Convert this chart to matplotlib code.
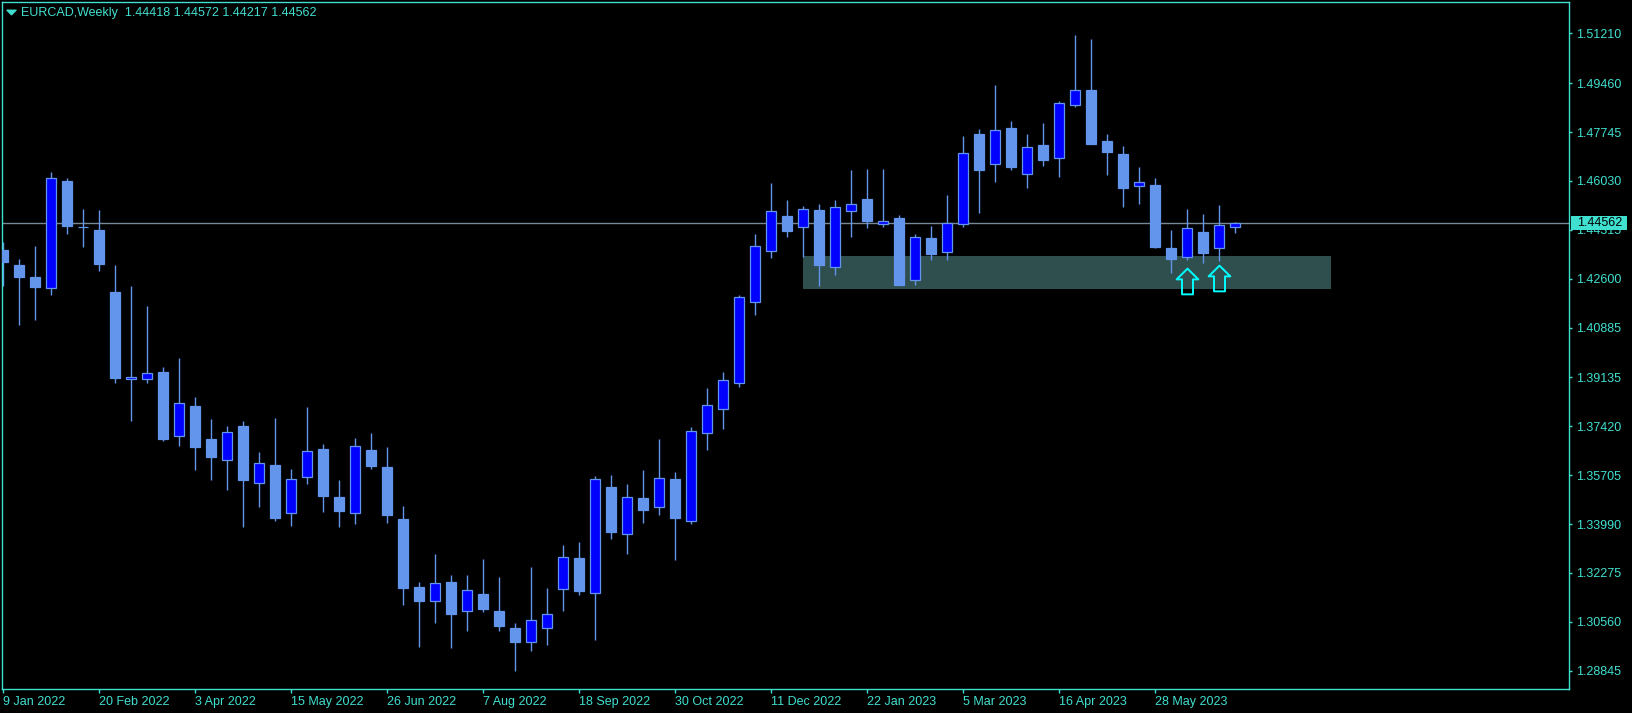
import numpy as np
import pandas as pd
import matplotlib

matplotlib.use("Agg")
import matplotlib.pyplot as plt
from matplotlib.path import Path
from matplotlib.patches import Rectangle
from matplotlib.transforms import blended_transform_factory

# EURCAD weekly candles, 9 Jan 2022 .. 2 Jul 2023
dates = pd.date_range("2022-01-09", periods=78, freq="7D")

opens = [
    1.43607, 1.43080, 1.42659, 1.42263, 1.46028, 1.44405, 1.44308, 1.42133, 1.39070, 1.39091,
    1.39326, 1.37091, 1.38133, 1.36975, 1.36228, 1.37431, 1.35421, 1.36063, 1.34368, 1.35631,
    1.36624, 1.34940, 1.34368, 1.36589, 1.35992, 1.34168, 1.31782, 1.31280, 1.31957, 1.30929,
    1.31536, 1.30940, 1.30343, 1.29863, 1.30333, 1.31701, 1.32799, 1.31561, 1.35291, 1.33631,
    1.34905, 1.34578, 1.35571, 1.34098, 1.37196, 1.38017, 1.38929, 1.41793, 1.43561, 1.44800,
    1.44396, 1.45010, 1.43000, 1.44964, 1.45396, 1.44508, 1.44729, 1.42564, 1.44028, 1.43526,
    1.44508, 1.47677, 1.46614, 1.47887, 1.46263, 1.47291, 1.46824, 1.48684, 1.49221, 1.47421,
    1.46975, 1.45842, 1.45887, 1.43677, 1.43350, 1.44238, 1.43666, 1.44418,
]
highs = [
    1.43898, 1.43291, 1.43747, 1.46343, 1.46133, 1.45045, 1.45010, 1.43080, 1.42343, 1.41642,
    1.39501, 1.39817, 1.38449, 1.37677, 1.37431, 1.37606, 1.36519, 1.37712, 1.35922, 1.38098,
    1.36799, 1.35536, 1.37010, 1.37185, 1.36694, 1.34624, 1.31957, 1.32940, 1.32203, 1.32203,
    1.32764, 1.32133, 1.30519, 1.32484, 1.31747, 1.33256, 1.33361, 1.35677, 1.35712, 1.35396,
    1.35887, 1.36975, 1.35817, 1.37396, 1.38764, 1.39326, 1.42017, 1.44168, 1.45957, 1.45361,
    1.45150, 1.45221, 1.45361, 1.46414, 1.46449, 1.46449, 1.44835, 1.44168, 1.44449, 1.45536,
    1.47607, 1.47852, 1.49396, 1.48122, 1.47677, 1.48063, 1.48835, 1.51150, 1.51010, 1.47677,
    1.47256, 1.46519, 1.46133, 1.44308, 1.45045, 1.44870, 1.45186, 1.44572,
]
lows = [
    1.42354, 1.40985, 1.41150, 1.42038, 1.44178, 1.43722, 1.42880, 1.38950, 1.37617, 1.38950,
    1.36915, 1.36740, 1.35898, 1.35547, 1.35196, 1.33887, 1.34599, 1.34100, 1.33922, 1.35406,
    1.34424, 1.33898, 1.34003, 1.35933, 1.34038, 1.31161, 1.29687, 1.30529, 1.29652, 1.30249,
    1.30915, 1.30249, 1.28835, 1.29547, 1.29757, 1.30950, 1.31512, 1.29933, 1.33477, 1.32950,
    1.34038, 1.34319, 1.32729, 1.33992, 1.36599, 1.37336, 1.38810, 1.41336, 1.43336, 1.44073,
    1.43371, 1.42354, 1.42740, 1.44073, 1.44389, 1.44424, 1.42379, 1.42389, 1.43266, 1.43266,
    1.44424, 1.44915, 1.46003, 1.46424, 1.45793, 1.46564, 1.46179, 1.48635, 1.47315, 1.46249,
    1.45126, 1.45231, 1.43687, 1.42810, 1.43256, 1.43161, 1.43231, 1.44217,
]
closes = [
    1.43196, 1.42670, 1.42319, 1.46122, 1.44459, 1.44401, 1.43126, 1.39126, 1.39140, 1.39280,
    1.36985, 1.38228, 1.36705, 1.36354, 1.37210, 1.35547, 1.36133, 1.34213, 1.35561, 1.36543,
    1.34985, 1.34459, 1.36719, 1.36038, 1.34319, 1.31757, 1.31301, 1.31922, 1.30845, 1.31666,
    1.31020, 1.30424, 1.29863, 1.30624, 1.30824, 1.32835, 1.31652, 1.35571, 1.33722, 1.34940,
    1.34494, 1.35596, 1.34213, 1.37256, 1.38157, 1.39035, 1.41947, 1.43736, 1.44964, 1.44284,
    1.45035, 1.43091, 1.45115, 1.45210, 1.44635, 1.44614, 1.42389, 1.44052, 1.43477, 1.44554,
    1.47000, 1.46424, 1.47807, 1.46529, 1.47210, 1.46775, 1.48754, 1.49210, 1.47336, 1.47056,
    1.45793, 1.45982, 1.43722, 1.43301, 1.44378, 1.43512, 1.44484, 1.44562,
]

# support zone rectangle and signal arrows
zone_start, zone_end = "2022-12-25", "2023-08-13"
zone_low, zone_high = 1.42249, 1.43396
arrow_dates = ["2023-06-11", "2023-06-25"]
arrow_prices = [1.42536, 1.42614]

ytick_values = [1.28845, 1.30560, 1.32275, 1.33990, 1.35705, 1.37420, 1.39135,
                1.40885, 1.42600, 1.44315, 1.46030, 1.47745, 1.49460, 1.51210]
xtick_every = 6

FG = "#40E0D0"
BULL = "#0000FF"
BEAR = "#6495ED"
FONT = "Liberation Sans"

o, h, l, c = map(np.array, (opens, highs, lows, closes))
x = np.arange(len(dates))


def to_idx(d):
    return (pd.Timestamp(d) - dates[0]).days / 7.0


W, H = 1633, 713
fig = plt.figure(figsize=(W / 100, H / 100), dpi=100)
fig.patch.set_facecolor("black")
ax = fig.add_axes([2 / W, 24 / H, 1567.3 / W, 687 / H])
ax.set_facecolor("black")

# zone
z0, z1 = to_idx(zone_start), to_idx(zone_end)
ax.add_patch(Rectangle((z0, zone_low), z1 - z0, zone_high - zone_low,
                       facecolor="#2F4F4F", edgecolor="none", zorder=1))

# bid line
ax.axhline(c[-1], color="#778899", lw=1.0, zorder=1.8)

# candles
ax.vlines(x, l, h, colors=BEAR, lw=1.0, zorder=2)
fills = [BULL if cc > oo else BEAR for oo, cc in zip(o, c)]
ax.bar(x, np.abs(c - o), bottom=np.minimum(o, c), width=0.64,
       color=fills, edgecolor=BEAR, linewidth=0.9, zorder=3)

# hollow up arrows
av = [(0, 12.85), (10.85, 2.15), (5.5, 2.15), (5.5, -12.85), (-5.5, -12.85),
      (-5.5, 2.15), (-10.85, 2.15), (0, 12.85)]
acodes = [Path.MOVETO] + [Path.LINETO] * 6 + [Path.CLOSEPOLY]
arrow_marker = Path(av, acodes)
ax.plot([to_idx(d) for d in arrow_dates], arrow_prices, ls="none",
        marker=arrow_marker, markersize=18.5, mfc="none", mec="#00FFFF",
        mew=1.4, zorder=5)

# axes limits / ticks
ax.set_xlim((2 - 3.3) / 16, (1569.3 - 3.3) / 16)
ax.set_ylim(1.28203, 1.52308)

ax.yaxis.tick_right()
ax.set_yticks(ytick_values)
ax.set_yticklabels([f"{v:.5f}" for v in ytick_values])
xt = x[::xtick_every][:13]
ax.set_xticks(xt)
ax.set_xticklabels([f"{dates[i].day} {dates[i].strftime('%b %Y')}" for i in xt],
                   ha="left")
ax.tick_params(axis="y", colors=FG, length=2, width=1, pad=3, labelsize=9)
ax.tick_params(axis="x", colors=FG, length=3, width=1, pad=2.2, labelsize=9)
for lab in ax.get_xticklabels() + ax.get_yticklabels():
    lab.set_fontfamily(FONT)
for sp in ax.spines.values():
    sp.set_color(FG)
    sp.set_linewidth(1)

# price box on the right axis
bt = blended_transform_factory(ax.transAxes, ax.transData)
ax.add_patch(Rectangle((1.00108, c[-1] - 0.0024), 0.0357, 0.0048, transform=bt,
                       facecolor=FG, edgecolor="none", clip_on=False, zorder=6))
ax.text(1.0047, c[-1], f"{c[-1]:.5f}", transform=bt, va="center", ha="left",
        color="black", fontsize=9, family=FONT, clip_on=False, zorder=7)

# header
tri = Path([(-1, 0.5), (1, 0.5), (0, -0.5), (-1, 0.5)],
           [Path.MOVETO, Path.LINETO, Path.LINETO, Path.CLOSEPOLY])
ax.plot([10.5 / W], [1 - 12 / H], transform=fig.transFigure, marker=tri,
        markersize=6.5, color=FG, ls="none", clip_on=False)
fig.text(21 / W, 1 - 12.7 / H,
         f"EURCAD,Weekly  {o[-1]:.5f} {h[-1]:.5f} {l[-1]:.5f} {c[-1]:.5f}",
         color=FG, fontsize=9, family=FONT, va="center", ha="left")

fig.savefig("out.png", dpi=100, facecolor="black")
